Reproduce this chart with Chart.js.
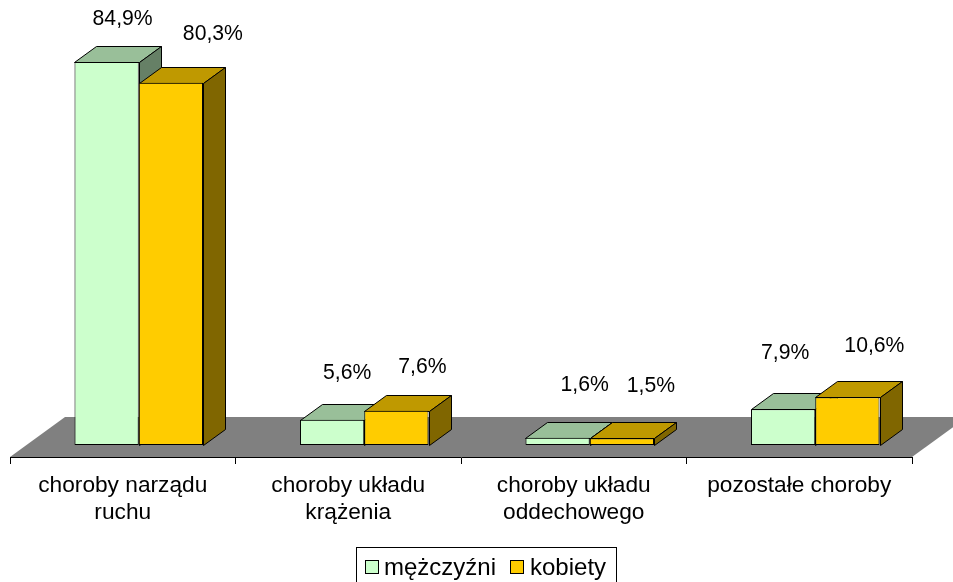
<!DOCTYPE html>
<html><head><meta charset="utf-8">
<style>html,body{margin:0;padding:0;background:#fff;overflow:hidden}canvas{display:block}</style>
<script src="https://cdn.jsdelivr.net/npm/chart.js@4"></script>
</head><body><canvas id="c" width="953" height="582"></canvas>
<script>
const categories = [["choroby narządu","ruchu"],["choroby układu","krążenia"],["choroby układu","oddechowego"],["pozostałe choroby"]];
const mezczyzni = [84.9, 5.6, 1.6, 7.9];
const kobiety = [80.3, 7.6, 1.5, 10.6];
const seriesNames = ["mężczyźni","kobiety"];

const FONT = "'Liberation Sans', Arial, sans-serif";
const DEPTH_X = 22, DEPTH_Y = 16, FLOOR_X = 55, FLOOR_Y = 40, SHIFT_X = 16;
const frontColors = ["#CCFFCC","#FFCC00"], topColors = ["#99BF99","#BF9900"], sideColors = ["#668066","#806600"];
// hand-placed label offsets from each bar's front top centre: [dx, dy above]
const labelOffsets = [
  [[16,43],[15,47],[27,53],[2,56]],
  [[42,49],[26,44],[29,52],[27,51]]
];
const legendFrame = {x:356.5,y:547.5,w:260,h:36};
const legendItems = [{swatch:365,text:384},{swatch:510,text:530}];

function poly(ctx, pts, fill, stroke){
  ctx.beginPath();
  pts.forEach((p,i)=> i? ctx.lineTo(p[0],p[1]) : ctx.moveTo(p[0],p[1]));
  ctx.closePath();
  ctx.fillStyle = fill; ctx.fill();
  if(stroke){ ctx.strokeStyle = stroke; ctx.lineWidth = 1; ctx.lineJoin='round'; ctx.stroke(); }
}

const box3d = {
  id:'box3d',
  // native dataset drawing is replaced so that later series sit in front of earlier ones
  beforeDatasetDraw(){ return false; },
  beforeDatasetsDraw(chart){
    const {ctx, chartArea:a} = chart;
    ctx.save();
    poly(ctx,[[a.left,a.bottom],[a.left+FLOOR_X,a.bottom-FLOOR_Y],[a.right+FLOOR_X,a.bottom-FLOOR_Y],[a.right,a.bottom]],"#808080");
    ctx.translate(SHIFT_X,0);
    chart.data.datasets.forEach((ds,i)=>{
      const meta = chart.getDatasetMeta(i);
      meta.data.forEach(b=>{
        const p = b.getProps(['x','y','base','width'],true);
        const l=Math.round(p.x-p.width/2)+.5, r=Math.round(p.x+p.width/2)+.5, t=Math.round(p.y)+.5, bt=Math.round(p.base)+.5;
        poly(ctx,[[l,t],[l+DEPTH_X,t-DEPTH_Y],[r+DEPTH_X,t-DEPTH_Y],[r,t]],topColors[i],"#000");
        poly(ctx,[[r,t],[r+DEPTH_X,t-DEPTH_Y],[r+DEPTH_X,bt-DEPTH_Y],[r,bt]],sideColors[i],"#000");
      });
      meta.controller.draw();
    });
    ctx.restore();
  },
  afterDatasetsDraw(chart){
    const {ctx} = chart;
    ctx.save();
    ctx.font = "21.2px "+FONT; ctx.fillStyle="#000"; ctx.textAlign='center'; ctx.textBaseline='middle';
    chart.data.datasets.forEach((ds,i)=>{
      chart.getDatasetMeta(i).data.forEach((b,j)=>{
        const o = labelOffsets[i][j];
        ctx.fillText(ds.data[j].toFixed(1).replace('.',',')+'%', b.x+SHIFT_X+o[0], b.y-o[1]);
      });
    });
    ctx.restore();
  },
  afterDraw(chart){
    const {ctx} = chart;
    ctx.save();
    ctx.strokeStyle="#000"; ctx.lineWidth=1;
    ctx.strokeRect(legendFrame.x, legendFrame.y, legendFrame.w, legendFrame.h);
    ctx.font="24px "+FONT; ctx.textBaseline='middle'; ctx.textAlign='left';
    chart.data.datasets.forEach((ds,i)=>{
      const it = legendItems[i];
      ctx.fillStyle=ds.backgroundColor;
      ctx.fillRect(it.swatch+.5,560.5,13,13);
      ctx.strokeRect(it.swatch+.5,560.5,13,13);
      ctx.fillStyle="#000";
      ctx.fillText(ds.label,it.text,568);
    });
    ctx.restore();
  }
};

new Chart(document.getElementById('c'),{
  type:'bar',
  data:{labels:categories,datasets:[
    {label:seriesNames[0],data:mezczyzni,backgroundColor:frontColors[0],borderColor:"#000",borderWidth:1,borderSkipped:false,clip:false},
    {label:seriesNames[1],data:kobiety,backgroundColor:frontColors[1],borderColor:"#000",borderWidth:1,borderSkipped:false,clip:false}
  ]},
  options:{
    responsive:false, animation:false, devicePixelRatio:1,
    layout:{padding:{left:10,right:41,top:0,bottom:0}},
    datasets:{bar:{categoryPercentage:0.57,barPercentage:1,base:0}},
    scales:{
      x:{
        afterFit(s){ s.height = 125; },
        grid:{drawOnChartArea:false,drawTicks:true,tickLength:7,color:"#000",offset:true},
        border:{color:"#000",width:1},
        ticks:{color:"#000",font:{family:FONT,size:22.7,lineHeight:1.19},maxRotation:0,minRotation:0,autoSkip:false,padding:8}
      },
      y:{display:false,min:-2.66,max:98.67,grid:{display:false}}
    },
    plugins:{tooltip:{enabled:false},legend:{display:false}}
  },
  plugins:[box3d]
});
</script>
</body></html>
